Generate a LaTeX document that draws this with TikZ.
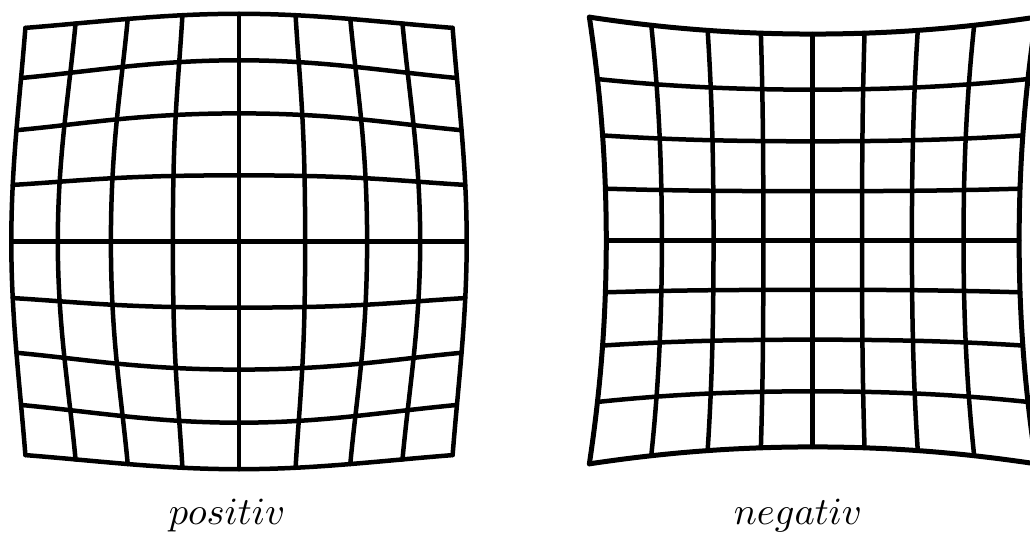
\documentclass[tikz,border=0pt]{standalone}
\usepackage{tikz}
\usetikzlibrary{positioning}

\tikzset{
  gridline/.style={line width=0.45mm, line join=round, line cap=round},
  rimline/.style={line width=0.5mm, line join=round, line cap=round},
  caption/.style={font=\fontsize{10.5}{12}\selectfont, anchor=base, inner sep=0pt}
}

\begin{document}
\begin{tikzpicture}[x=0.1mm, y=0.1mm,
    declare function={
      qpos(\s)=1-0.2466*\s*sqrt(\s)/(45.6+\s*sqrt(\s));
      qneg(\s)=1+0.00073*\s*sqrt(\s);
    }]
  \useasboundingbox (0,0) rectangle (1030,534);
  \clip (0,0) rectangle (1030,534);

  % positiv: barrel grid
  \begin{scope}[shift={(239,292.5)}]
    \foreach \k in {-4,...,4}{
      \draw[gridline] plot[smooth, domain=-4:4, samples=41, variable=\t]
        ({66.5*\t*qpos(\t*\t+(\k)*(\k))}, {66.5*(\k)*qpos(\t*\t+(\k)*(\k))});
      \draw[gridline] plot[smooth, domain=-4:4, samples=41, variable=\t]
        ({66.5*(\k)*qpos(\t*\t+(\k)*(\k))}, {66.5*\t*qpos(\t*\t+(\k)*(\k))});
    }
  \end{scope}

  % negativ: pincushion grid
  \begin{scope}[shift={(812.7,293.5)}]
    \foreach \k in {-3,...,3}{
      \draw[gridline] plot[smooth, domain=-4:4, samples=41, variable=\t]
        ({49.3*\t*qneg(\t*\t+(\k)*(\k))}, {49.3*(\k)*qneg(\t*\t+(\k)*(\k))});
      \draw[gridline] plot[smooth, domain=-4:4, samples=41, variable=\t]
        ({49.3*(\k)*qneg(\t*\t+(\k)*(\k))}, {49.3*\t*qneg(\t*\t+(\k)*(\k))});
    }
    \foreach \k in {-4,4}{
      \draw[rimline] plot[smooth, domain=-4:4, samples=41, variable=\t]
        ({49.3*\t*qneg(\t*\t+(\k)*(\k))}, {49.3*(\k)*qneg(\t*\t+(\k)*(\k))});
      \draw[rimline] plot[smooth, domain=-4:4, samples=41, variable=\t]
        ({49.3*(\k)*qneg(\t*\t+(\k)*(\k))}, {49.3*\t*qneg(\t*\t+(\k)*(\k))});
    }
  \end{scope}

  \node[caption] (poslabel) at (227,9) {$positiv$};
  \node[caption] (neglabel) at (798,9) {$negativ$};
\end{tikzpicture}
\end{document}
